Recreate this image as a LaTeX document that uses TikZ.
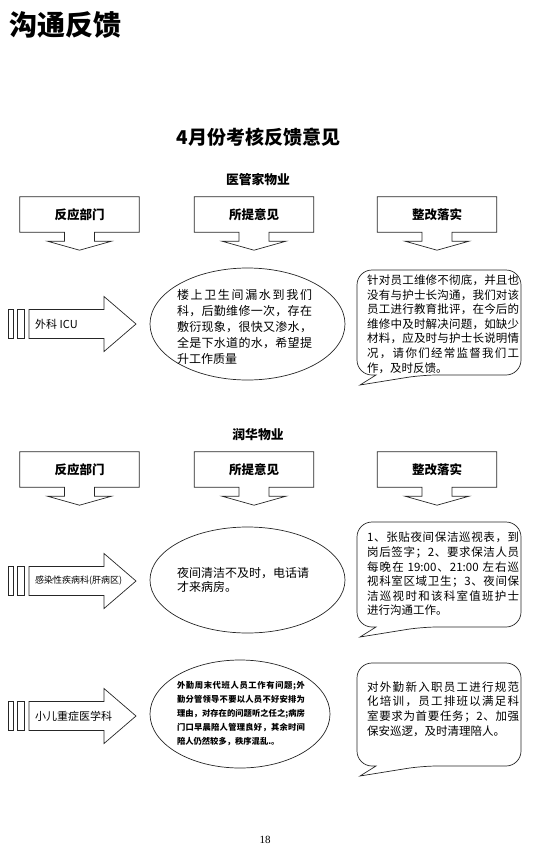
\documentclass[tikz,border=0pt]{standalone}
\usepackage{fontspec}
\setmainfont{Noto Sans CJK SC}
\newfontfamily\pagenumfont{Liberation Serif}
\usetikzlibrary{calc,shapes.geometric}
% even stretch between Chinese characters, so justified lines spread evenly
\newcount\hanzi
\hanzi="4E00
\loop\XeTeXcharclass\hanzi=1 \advance\hanzi by 1 \ifnum\hanzi<"A000 \repeat
\XeTeXcharclass"3001=1 \XeTeXcharclass"3002=1 \XeTeXcharclass"FF0C=1 \XeTeXcharclass"FF1B=1
\XeTeXinterchartokenstate=1
\XeTeXinterchartoks 1 1 = {\hskip 0pt plus 1pt\relax}
\XeTeXinterchartoks 0 1 = {\hskip 0pt plus 1pt\relax}
\XeTeXinterchartoks 1 0 = {\hskip 0pt plus 1pt\relax}
\tikzset{outline/.style={draw=black!85,line width=0.7pt}}
% header box with a down arrow under it
\newcommand\downcallout[1]{%
  \draw[outline] (#1.north west) -- (#1.north east) -- (#1.south east)
    -- ($(#1.south)+(15,0)$) -- ++(0,9) -- ++(17,0) -- ($(#1.south)+(0,18)$)
    -- ++(-32,-9) -- ++(17,0) -- ++(0,-9) -- (#1.south west) -- cycle;}
% striped arrow pointing right, #1 name, #2 y of its axis
\newcommand\deptarrow[2]{%
  \coordinate (#1) at (29,#2);
  \draw[outline] (8,#2-14.5) rectangle (13.5,#2+14.5);
  \draw[outline] (17,#2-14.5) rectangle (24.5,#2+14.5);
  \draw[outline] (29,#2-14.5) -- (104,#2-14.5) -- (104,#2-27.5) -- (136,#2)
    -- (104,#2+27.5) -- (104,#2+14.5) -- (29,#2+14.5) -- cycle;}
% rounded speech bubble, #1 name, #2 top, #3 bottom
\newcommand\replybubble[3]{%
  \coordinate (#1) at (357,#2);
  \draw[outline,rounded corners=15] (376,#3) -- (357,#3) -- (357,#2) -- (521,#2)
    -- (521,#3) -- (422,#3) [sharp corners] -- (360,#3+10) -- cycle;}

\begin{document}
\begin{tikzpicture}[x=1pt,y=-1pt,
    headbox/.style={minimum width=119,minimum height=35,inner sep=0,
      font=\bfseries\fontsize{12.5}{14}\selectfont},
    oval/.style={ellipse,outline,inner sep=0},
    sectitle/.style={font=\bfseries\fontsize{12.8}{14}\selectfont},
    dept/.style={anchor=west,inner sep=0,font=\fontsize{11}{13}\selectfont},
    opinion/.style={inner sep=0,text width=135,align=justify,font=\fontsize{12}{16}\selectfont},
    reply/.style={anchor=west,inner sep=0,text width=152,align=justify,font=\fontsize{11.5}{14.6}\selectfont}]
    \useasboundingbox (0,0) rectangle (536,849);

    \node[anchor=west,inner sep=0,font=\bfseries\fontsize{28}{30}\selectfont] (title) at (9,25) {沟通反馈};
    \node[font=\bfseries\fontsize{19}{21}\selectfont] (month) at (258.5,137) {4月份考核反馈意见};

    % 医管家物业
    \node[sectitle] (firm1) at (258,180) {医管家物业};
    \node[headbox] (dept1) at (79.5,214.5) {反应部门};
    \node[headbox] (idea1) at (254,214.5) {所提意见};
    \node[headbox] (fix1) at (437,214.5) {整改落实};
    \downcallout{dept1} \downcallout{idea1} \downcallout{fix1}

    \deptarrow{icu}{324}
    \node[dept] (icutext) at (35,324) {外科 ICU};
    \node[oval,minimum width=195,minimum height=112] (leak) at (247.5,324) {};
    \node[opinion] (leaktext) at (244.5,327) {楼上卫生间漏水到我们\linebreak
      科，后勤维修一次，存在\linebreak 敷衍现象，很快又渗水，\linebreak
      全是下水道的水，希望提\linebreak 升工作质量};
    \replybubble{repair}{270}{375}
    \node[reply] (repairtext) at (367,324) {针对员工维修不彻底，并且也\linebreak
      没有与护士长沟通，我们对该\linebreak 员工进行教育批评，在今后的\linebreak
      维修中及时解决问题，如缺少\linebreak 材料，应及时与护士长说明情\linebreak
      况，请你们经常监督我们工\linebreak 作，及时反馈。};

    % 润华物业
    \node[sectitle] (firm2) at (258,435) {润华物业};
    \node[headbox] (dept2) at (79.5,469.5) {反应部门};
    \node[headbox] (idea2) at (254,469.5) {所提意见};
    \node[headbox] (fix2) at (437,469.5) {整改落实};
    \downcallout{dept2} \downcallout{idea2} \downcallout{fix2}

    \deptarrow{liver}{581}
    \node[dept,font=\fontsize{9}{11}\selectfont] (livertext) at (35,581) {感染性疾病科(肝病区)};
    \node[oval,minimum width=195,minimum height=106] (night) at (247.5,580) {};
    \node[opinion,text width=134,align=left,font=\fontsize{12}{14.5}\selectfont] (nighttext) at (244,580)
      {夜间清洁不及时，电话请\\才来病房。};
    \replybubble{patrol}{522}{627}
    \node[reply] (patroltext) at (367,574) {1、张贴夜间保洁巡视表，到\linebreak
      岗后签字；2、要求保洁人员\linebreak 每晚在 19:00、21:00 左右巡\linebreak
      视科室区域卫生；3、夜间保\linebreak 洁巡视时和该科室值班护士\linebreak
      进行沟通工作。};

    \deptarrow{picu}{716}
    \node[dept] (picutext) at (35,716) {小儿重症医学科};
    \node[oval,minimum width=180,minimum height=108] (guard) at (240,714) {};
    \node[opinion,text width=128,font=\bfseries\fontsize{8.3}{14}\selectfont] (guardtext) at (241,714)
      {外勤周末代班人员工作有问题;外\linebreak 勤分管领导不要以人员不好安排为\linebreak
      理由，对存在的问题听之任之;病房\linebreak 门口早晨陪人管理良好，其余时间\linebreak
      陪人仍然较多，秩序混乱.。};
    \replybubble{train}{663}{766}
    \node[reply] (traintext) at (367,709) {对外勤新入职员工进行规范\linebreak
      化培训，员工排班以满足科\linebreak 室要求为首要任务；2、加强\linebreak
      保安巡逻，及时清理陪人。};

    \node[font=\pagenumfont\fontsize{11}{12}\selectfont] (page) at (265,840) {18};
    \end{tikzpicture}
\end{document}
